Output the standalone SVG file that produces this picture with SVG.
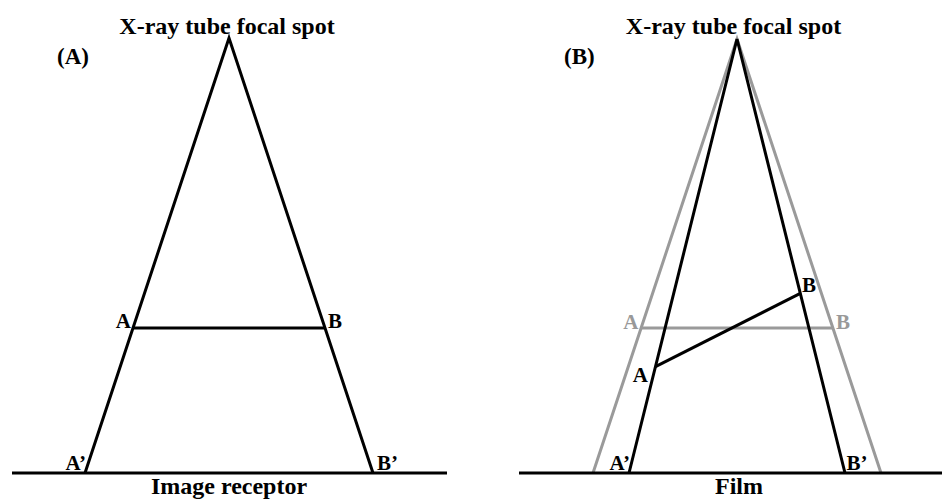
<svg xmlns="http://www.w3.org/2000/svg" width="942" height="500" viewBox="0 0 942 500">
<style>
text{font-family:"Liberation Serif","Times New Roman",serif;font-weight:bold;fill:#000}
.t{font-size:24px;text-anchor:middle}
.p{font-size:23px}
.l{font-size:21px}
.g{fill:#999}
.e{text-anchor:end}
.k{stroke:#000;stroke-width:3;fill:none;stroke-linejoin:miter}
.gr{stroke:#9a9a9a;stroke-width:3;fill:none}
</style>
<rect width="942" height="500" fill="#fff"/>
<g id="panelA">
<text class="t" x="227" y="34">X-ray tube focal spot</text>
<text class="p" x="57" y="64">(A)</text>
<g id="connectorsA">
<line class="k" x1="12" y1="473" x2="447" y2="473"/>
<polyline class="k" points="85,473 229,38 373,473"/>
<line class="k" x1="133" y1="328" x2="325" y2="328"/>
</g>
<g id="labelsA">
<text class="l e" x="131" y="328">A</text>
<text class="l" x="328" y="328">B</text>
<text class="l e" x="86" y="470">A’</text>
<text class="l" x="377" y="470">B’</text>
</g>
<text class="t" x="229" y="494">Image receptor</text>
</g>
<g id="panelB">
<text class="t" x="733.5" y="34">X-ray tube focal spot</text>
<text class="p" x="564" y="64">(B)</text>
<g id="connectorsB">
<polyline class="gr" points="593,473 737,39 881,473"/>
<line class="gr" x1="641" y1="328" x2="833" y2="328"/>
<line class="k" x1="519" y1="473" x2="942" y2="473"/>
<polyline class="k" points="629,473 737,39 845,473"/>
<line class="k" x1="655.5" y1="366.7" x2="800.3" y2="293.3"/>
</g>
<g id="labelsB">
<text class="l e g" x="638.5" y="329">A</text>
<text class="l g" x="836" y="329">B</text>
<text class="l" x="802" y="292">B</text>
<text class="l e" x="648" y="382">A</text>
<text class="l e" x="630" y="470">A’</text>
<text class="l" x="846.5" y="470">B’</text>
</g>
<text class="t" x="739" y="494">Film</text>
</g>
</svg>
